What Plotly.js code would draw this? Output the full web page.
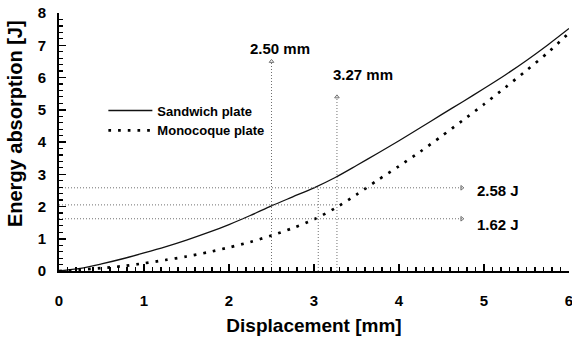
<!DOCTYPE html>
<html><head><meta charset="utf-8">
<script src="https://cdn.plot.ly/plotly-3.0.1.min.js"></script>
<style>html,body{margin:0;padding:0;background:#fff;}#chart{width:572px;height:343px;}</style>
</head><body><div id="chart"></div>
<script>
// Data
const displacement = [0, 0.25, 0.5, 0.75, 1, 1.25, 1.5, 1.75, 2, 2.25, 2.5, 2.75, 3, 3.25, 3.5, 3.75, 4, 4.25, 4.5, 4.75, 5, 5.25, 5.5, 5.75, 6];
const sandwich = [0, 0.08, 0.22, 0.38, 0.56, 0.75, 0.96, 1.19, 1.44, 1.72, 2.02, 2.3, 2.58, 2.9, 3.27, 3.65, 4.04, 4.44, 4.85, 5.25, 5.66, 6.08, 6.53, 7.01, 7.52];
const monocoque = [0, 0.04, 0.09, 0.15, 0.24, 0.34, 0.45, 0.58, 0.73, 0.9, 1.1, 1.33, 1.6, 1.95, 2.37, 2.82, 3.25, 3.7, 4.18, 4.67, 5.17, 5.69, 6.22, 6.77, 7.38];
const seriesNames = ["Sandwich plate", "Monocoque plate"];

// Reference markers
const markX = [2.5, 3.05, 3.27];          // vertical guide positions [mm]
const markTop = [6.5, 2.58, 5.4];         // top of each vertical guide [J]
const levelY = [2.58, 2.05, 1.62];        // horizontal guide levels [J]
const levelEnd = [4.74, 3.27, 4.74];      // right end of each horizontal guide [mm]
const markLabels = ["2.50 mm", "3.27 mm"];
const levelLabels = ["2.58 J", "1.62 J"];

const guideColor = "#707070";
const traces = [
  {x: displacement, y: sandwich, name: seriesNames[0], mode: "lines",
   line: {color: "#111", width: 1.3, shape: "spline", smoothing: 0.8}},
  {x: displacement, y: monocoque, name: seriesNames[1], mode: "lines",
   line: {color: "#000", width: 2.7, dash: "2.7px,7px", shape: "spline", smoothing: 0.8}}
];
markX.forEach((mx, i) => {
  traces.push({x: [mx, mx], y: [0, markTop[i]], mode: "lines", showlegend: false, hoverinfo: "skip",
    line: {color: guideColor, width: 1, dash: "1px,2px"}});
  if (i !== 1) traces.push({x: [mx], y: [markTop[i]], mode: "markers", showlegend: false, hoverinfo: "skip",
    marker: {symbol: "triangle-up-open", size: 4, color: guideColor, line: {width: 1}}, cliponaxis: false});
});
levelY.forEach((ly, i) => {
  traces.push({x: [0, levelEnd[i]], y: [ly, ly], mode: "lines", showlegend: false, hoverinfo: "skip",
    line: {color: guideColor, width: 1, dash: "1px,2px"}});
  if (i !== 1) traces.push({x: [levelEnd[i]], y: [ly], mode: "markers", showlegend: false, hoverinfo: "skip",
    marker: {symbol: "triangle-right-open", size: 4, color: guideColor, line: {width: 1}}, cliponaxis: false});
});

const fontFam = "Liberation Sans, Arial, sans-serif";
const layout = {
  width: 572, height: 343,
  margin: {l: 59, r: 3, t: 13, b: 72},
  paper_bgcolor: "#fff", plot_bgcolor: "#fff",
  font: {family: fontFam, color: "#000"},
  showlegend: true,
  legend: {x: 0.087, y: 0.68, xanchor: "left", yanchor: "top", bgcolor: "rgba(0,0,0,0)",
    font: {family: fontFam, size: 13, weight: "bold"}, itemwidth: 44, tracegroupgap: 0},
  xaxis: {range: [0, 6], dtick: 1, showgrid: false, zeroline: false,
    showline: true, linecolor: "#000", linewidth: 2,
    ticks: "inside", ticklen: 7, tickwidth: 1.5, tickcolor: "#000",
    minor: {dtick: 0.1, ticks: "inside", ticklen: 4, tickwidth: 1.2, tickcolor: "#000", showgrid: false},
    ticklabelstandoff: 15, ticklabeloverflow: "allow",
    tickfont: {family: fontFam, size: 15, weight: "bold"},
    title: {text: "Displacement [mm]", font: {family: fontFam, size: 19, weight: "bold"}, standoff: 11}},
  yaxis: {range: [0, 8], dtick: 1, showgrid: false, zeroline: false,
    showline: true, linecolor: "#000", linewidth: 2,
    ticks: "inside", ticklen: 7, tickwidth: 1.5, tickcolor: "#000",
    minor: {dtick: 0.2, ticks: "inside", ticklen: 4, tickwidth: 1.2, tickcolor: "#000", showgrid: false},
    ticklabelstandoff: 8,
    tickfont: {family: fontFam, size: 15, weight: "bold"}},
  annotations: [
    {xref: "paper", yref: "paper", x: -0.086, y: 0.57, text: "Energy absorption [J]", textangle: -90,
     showarrow: false, xanchor: "center", yanchor: "middle",
     font: {family: fontFam, size: 20, weight: "bold"}},
    {x: 2.6, y: 6.9, text: markLabels[0], showarrow: false, xanchor: "center", yanchor: "middle",
     font: {family: fontFam, size: 15, weight: "bold"}},
    {x: 3.58, y: 6.08, text: markLabels[1], showarrow: false, xanchor: "center", yanchor: "middle",
     font: {family: fontFam, size: 15, weight: "bold"}},
    {x: 4.89, y: 2.5, text: levelLabels[0], showarrow: false, xanchor: "left", yanchor: "middle",
     font: {family: fontFam, size: 15, weight: "bold"}},
    {x: 4.89, y: 1.45, text: levelLabels[1], showarrow: false, xanchor: "left", yanchor: "middle",
     font: {family: fontFam, size: 15, weight: "bold"}}
  ]
};
Plotly.newPlot("chart", traces, layout, {staticPlot: true, displayModeBar: false});
</script></body></html>
